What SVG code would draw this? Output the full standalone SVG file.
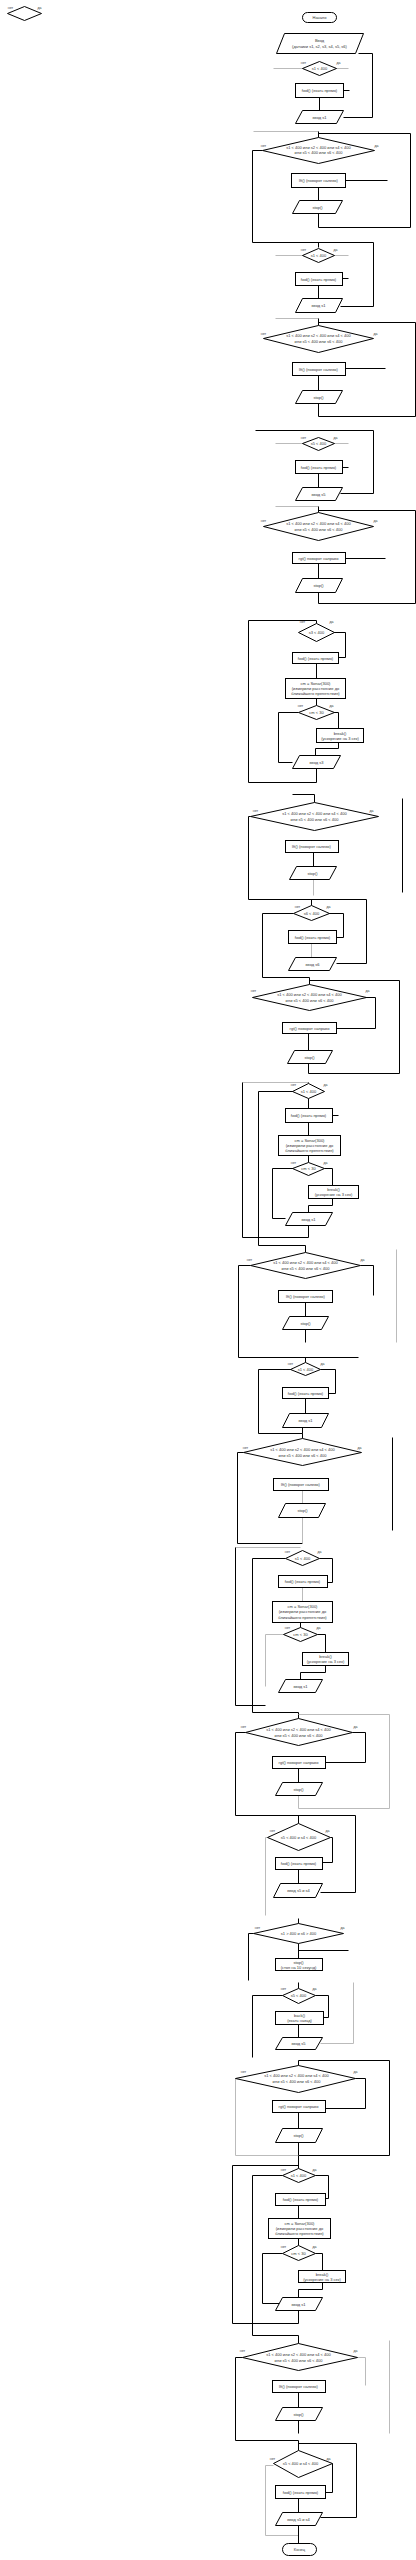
<svg xmlns="http://www.w3.org/2000/svg" width="416" height="2560" viewBox="0 0 416 2560">
<style>
.s{fill:#fff;stroke:#000;stroke-width:1}
.t{font-family:"Liberation Sans",Arial,sans-serif;font-size:4px;fill:#333;text-anchor:middle}
.l{font-family:"Liberation Sans",Arial,sans-serif;font-size:3.5px;fill:#333;text-anchor:middle}
.c{fill:none;stroke:#000;stroke-width:1}
.g{fill:none;stroke:#bbb;stroke-width:1}
</style>
<rect width="416" height="2560" fill="#fff"/>
<g transform="translate(0.5,0.5)">
<g id="connectors">
<path class="c" d="M343,117H372V53H358"/>
<path class="g" d="M273,68H348"/>
<path class="c" d="M319,97V110"/>
<path class="c" d="M343,90H349"/>
<path class="g" d="M253,131H318"/>
<path class="c" d="M318,131V137M318,133H410V227H318V213"/>
<path class="c" d="M345,180H387"/>
<path class="c" d="M318,187V200"/>
<path class="c" d="M262,150H252V242H373V306H340M318,242V247"/>
<path class="g" d="M275,255H348"/>
<path class="c" d="M342,278H348M318,285V298"/>
<path class="g" d="M275,318H318"/>
<path class="c" d="M318,318V325M318,322H415V416H318V403"/>
<path class="c" d="M345,368H385M318,375V390"/>
<path class="c" d="M255,430H373V493H340"/>
<path class="g" d="M275,443H348"/>
<path class="c" d="M342,467H348M318,473V487"/>
<path class="g" d="M275,506H318"/>
<path class="c" d="M318,506V512M318,510H415V603H318V592"/>
<path class="c" d="M345,558H385M318,563V578"/>
<path class="c" d="M316,620H248V782H316V768M316,620V623"/>
<path class="c" d="M333,632H345V657H338"/>
<path class="c" d="M316,663V678M316,698V705"/>
<path class="c" d="M298,712H278V762H292"/>
<path class="c" d="M333,712H338V728"/>
<path class="c" d="M338,742V748H315V755"/>
<path class="c" d="M292,794H314V802"/>
<path class="c" d="M402,798V892"/>
<path class="c" d="M250,816H248V899H366V963H336"/>
<path class="c" d="M313,852V866"/>
<path class="g" d="M313,879V895"/>
<path class="c" d="M311,899V905"/>
<path class="c" d="M293,913H262V977H309V984"/>
<path class="c" d="M328,913H343V937H336"/>
<path class="g" d="M311,943V957"/>
<path class="c" d="M309,980H399V1073H308V1063"/>
<path class="c" d="M365,997H375V1028H336"/>
<path class="c" d="M308,1033V1050"/>
<path class="g" d="M242,1082H308"/>
<path class="c" d="M242,1082V1237H308V1225M308,1082V1083"/>
<path class="c" d="M293,1091H258V1245H305V1252"/>
<path class="c" d="M332,1115H338M308,1098V1108M308,1122V1135M308,1155V1162"/>
<path class="c" d="M293,1168H272V1218H285"/>
<path class="c" d="M324,1168H332V1185"/>
<path class="c" d="M332,1198V1205H308V1212"/>
<path class="g" d="M396,1249V1342"/>
<path class="c" d="M250,1265H238V1357H358M305,1357V1362"/>
<path class="c" d="M360,1265H373V1295"/>
<path class="c" d="M305,1302V1316M305,1329V1342"/>
<path class="c" d="M292,1369H258V1433H302V1438"/>
<path class="c" d="M320,1369H335V1393H328"/>
<path class="c" d="M305,1398V1413M302,1427V1433"/>
<path class="c" d="M392,1437V1530"/>
<path class="c" d="M243,1452H237V1543H302"/>
<path class="g" d="M302,1490V1503M302,1517V1543"/>
<path class="g" d="M235,1547H300"/>
<path class="c" d="M235,1547V1705H265"/>
<path class="c" d="M285,1558H252V1712H298V1718"/>
<path class="c" d="M319,1558H332V1582H327"/>
<path class="g" d="M302,1587V1601"/>
<path class="c" d="M300,1622V1627"/>
<path class="g" d="M283,1634H265V1686"/>
<path class="c" d="M317,1634H325V1652"/>
<path class="c" d="M325,1665V1672H300V1679"/>
<path class="g" d="M298,1714H389V1808H298V1795"/>
<path class="c" d="M245,1732H235V1815H355V1892H320"/>
<path class="c" d="M352,1732H365V1762H325"/>
<path class="c" d="M298,1768V1782M298,1815V1823"/>
<path class="g" d="M267,1837H265V1915"/>
<path class="c" d="M330,1837H332V1862H322"/>
<path class="c" d="M298,1869V1883"/>
<path class="c" d="M298,1918V1923"/>
<path class="c" d="M253,1933H248V1980"/>
<path class="c" d="M298,1943V1958M298,1950H348"/>
<path class="c" d="M298,1982V1988"/>
<path class="g" d="M353,1982V2043H320"/>
<path class="c" d="M282,1995H252V2057"/>
<path class="c" d="M315,1995H328V2017H323"/>
<path class="c" d="M298,2024V2037"/>
<path class="c" d="M298,2060V2065M298,2060H389V2155H298V2142"/>
<path class="g" d="M235,2078V2155H298"/>
<path class="c" d="M355,2078H365V2108H325"/>
<path class="c" d="M298,2112V2128"/>
<path class="c" d="M298,2155V2168M232,2165H298"/>
<path class="c" d="M232,2165V2323H298V2310"/>
<path class="c" d="M282,2175H252V2335H298V2343"/>
<path class="c" d="M315,2175H328V2198H325"/>
<path class="c" d="M298,2205V2218M298,2238V2245"/>
<path class="c" d="M282,2253H262V2303H280"/>
<path class="c" d="M315,2253H322V2270"/>
<path class="c" d="M322,2282V2289H298V2297"/>
<path class="g" d="M389,2340V2433"/>
<path class="c" d="M242,2357H235V2440H298V2450"/>
<path class="c" d="M298,2443H356V2517H320"/>
<path class="g" d="M357,2357H365V2385"/>
<path class="c" d="M298,2392V2407M298,2420V2433"/>
<path class="g" d="M273,2465H265V2535H298"/>
<path class="c" d="M332,2463V2492H325"/>
<path class="c" d="M298,2498V2512M298,2525V2543"/>
</g>
<g id="n0"><path class="s" d="M7,13L24,6L41,13L24,20Z"/><text class="l" x="10" y="8">нет</text><text class="l" x="39" y="8">да</text></g>
<g id="start"><rect class="s" x="302" y="12" width="34" height="10" rx="5"/><text class="t" x="319" y="18.5">Начало</text></g>
<g id="in0"><path class="s" d="M284,33H363L355,53H276Z"/><text class="t" x="319" y="41.5">Ввод</text><text class="t" x="319" y="47">(датчики s1, s2, s3, s4, s5, s6)</text></g>
<g id="d1"><path class="s" d="M302,68L319,61L336,68L319,75Z"/><text class="t" x="319" y="69.5">s1 &lt; 400</text><text class="l" x="303" y="63">нет</text><text class="l" x="338" y="63">да</text></g>
<g id="b1"><rect class="s" x="295" y="83" width="48" height="14"/><text class="t" x="319" y="91.5">fwd() (ехать прямо)</text></g>
<g id="p1"><path class="s" d="M302,110H343L336,123H295Z"/><text class="t" x="319" y="118">ввод s1</text></g>
<g id="d2"><path class="s" d="M262,150L318,137L374,150L318,163Z"/><text class="t" x="318" y="148">s1 &lt; 400 или s2 &lt; 400 или s4 &lt; 400</text><text class="t" x="318" y="153.5">или s5 &lt; 400 или s6 &lt; 400</text><text class="l" x="263" y="146">нет</text><text class="l" x="376" y="146">да</text></g>
<g id="b2"><rect class="s" x="291" y="173" width="54" height="14"/><text class="t" x="318" y="181.5">lft() (поворот налево)</text></g>
<g id="p2"><path class="s" d="M299,200H342L335,213H292Z"/><text class="t" x="317" y="208">stop()</text></g>
<g id="d3"><path class="s" d="M302,255L318,248L334,255L318,262Z"/><text class="t" x="318" y="256.5">s1 &lt; 400</text><text class="l" x="303" y="250">нет</text><text class="l" x="335" y="250">да</text></g>
<g id="b3"><rect class="s" x="295" y="272" width="47" height="13"/><text class="t" x="318" y="280">fwd() (ехать прямо)</text></g>
<g id="p3"><path class="s" d="M302,298H342L335,312H295Z"/><text class="t" x="318" y="306.5">ввод s1</text></g>
<g id="d4"><path class="s" d="M263,338L318,325L373,338L318,352Z"/><text class="t" x="318" y="336.5">s1 &lt; 400 или s2 &lt; 400 или s4 &lt; 400</text><text class="t" x="318" y="342">или s5 &lt; 400 или s6 &lt; 400</text><text class="l" x="263" y="334">нет</text><text class="l" x="375" y="334">да</text></g>
<g id="b4"><rect class="s" x="292" y="362" width="53" height="13"/><text class="t" x="318" y="370">lft() (поворот налево)</text></g>
<g id="p4"><path class="s" d="M302,390H342L335,403H295Z"/><text class="t" x="318" y="398">stop()</text></g>
<g id="d5"><path class="s" d="M302,443L318,437L334,443L318,450Z"/><text class="t" x="318" y="444.5">s5 &lt; 400</text><text class="l" x="303" y="438">нет</text><text class="l" x="335" y="438">да</text></g>
<g id="b5"><rect class="s" x="295" y="460" width="47" height="13"/><text class="t" x="318" y="468">fwd() (ехать прямо)</text></g>
<g id="p5"><path class="s" d="M302,487H342L335,500H295Z"/><text class="t" x="318" y="495">ввод s5</text></g>
<g id="d6"><path class="s" d="M263,526L318,512L373,526L318,540Z"/><text class="t" x="318" y="524.5">s1 &lt; 400 или s2 &lt; 400 или s4 &lt; 400</text><text class="t" x="318" y="530">или s5 &lt; 400 или s6 &lt; 400</text><text class="l" x="263" y="521">нет</text><text class="l" x="375" y="521">да</text></g>
<g id="b6"><rect class="s" x="292" y="552" width="53" height="11"/><text class="t" x="318" y="559">rgt() поворот направо</text></g>
<g id="p6"><path class="s" d="M302,578H342L335,592H295Z"/><text class="t" x="318" y="586.5">stop()</text></g>
<g id="d7"><path class="s" d="M298,632L316,623L334,632L316,641Z"/><text class="t" x="316" y="633.5">s3 &lt; 400</text><text class="l" x="302" y="622">нет</text><text class="l" x="331" y="622">да</text></g>
<g id="b7"><rect class="s" x="292" y="652" width="46" height="11"/><text class="t" x="315" y="659">fwd() (ехать прямо)</text></g>
<g id="b8"><rect class="s" x="285" y="678" width="60" height="20"/><text class="t" x="315" y="684">cm = Sonar(300)</text><text class="t" x="315" y="689">(измерили расстояние до</text><text class="t" x="315" y="694">ближайшего препятствия)</text></g>
<g id="d8"><path class="s" d="M298,712L316,705L334,712L316,719Z"/><text class="t" x="316" y="713.5">cm &lt; 30</text><text class="l" x="300" y="706">нет</text><text class="l" x="331" y="706">да</text></g>
<g id="b9"><rect class="s" x="316" y="728" width="47" height="14"/><text class="t" x="339.5" y="734">break()</text><text class="t" x="339.5" y="739">(ускорение на 3 сек)</text></g>
<g id="p7"><path class="s" d="M299,755H340L333,768H292Z"/><text class="t" x="316" y="763">ввод s3</text></g>
<g id="d9"><path class="s" d="M250,816L314,802L378,816L314,830Z"/><text class="t" x="314" y="814.5">s1 &lt; 400 или s2 &lt; 400 или s4 &lt; 400</text><text class="t" x="314" y="820">или s5 &lt; 400 или s6 &lt; 400</text><text class="l" x="255" y="811">нет</text><text class="l" x="371" y="811">да</text></g>
<g id="b10"><rect class="s" x="285" y="840" width="53" height="12"/><text class="t" x="311" y="847.5">lft() (поворот налево)</text></g>
<g id="p8"><path class="s" d="M296,866H336L329,879H289Z"/><text class="t" x="312" y="874">stop()</text></g>
<g id="d10"><path class="s" d="M293,913L311,905L329,913L311,920Z"/><text class="t" x="311" y="914">s6 &lt; 400</text><text class="l" x="297" y="907">нет</text><text class="l" x="328" y="907">да</text></g>
<g id="b11"><rect class="s" x="288" y="930" width="48" height="13"/><text class="t" x="312" y="938">fwd() (ехать прямо)</text></g>
<g id="p9"><path class="s" d="M295,957H336L329,970H288Z"/><text class="t" x="312" y="965">ввод s6</text></g>
<g id="d11"><path class="s" d="M252,997L309,984L366,997L309,1010Z"/><text class="t" x="309" y="995.5">s1 &lt; 400 или s2 &lt; 400 или s4 &lt; 400</text><text class="t" x="309" y="1001">или s5 &lt; 400 или s6 &lt; 400</text><text class="l" x="253" y="991">нет</text><text class="l" x="367" y="991">да</text></g>
<g id="b12"><rect class="s" x="282" y="1022" width="54" height="11"/><text class="t" x="309" y="1029">rgt() поворот направо</text></g>
<g id="p10"><path class="s" d="M294,1050H332L325,1063H287Z"/><text class="t" x="309" y="1058">stop()</text></g>
<g id="d12"><path class="s" d="M292,1091L308,1083L324,1091L308,1098Z"/><text class="t" x="308" y="1092">s1 &lt; 400</text><text class="l" x="293" y="1085">нет</text><text class="l" x="325" y="1085">да</text></g>
<g id="b13"><rect class="s" x="285" y="1108" width="47" height="14"/><text class="t" x="308" y="1116.5">fwd() (ехать прямо)</text></g>
<g id="b14"><rect class="s" x="278" y="1135" width="62" height="20"/><text class="t" x="309" y="1141">cm = Sonar(300)</text><text class="t" x="309" y="1146">(измерили расстояние до</text><text class="t" x="309" y="1151">ближайшего препятствия)</text></g>
<g id="d13"><path class="s" d="M292,1168L308,1162L324,1168L308,1175Z"/><text class="t" x="308" y="1169.5">cm &lt; 30</text><text class="l" x="293" y="1163">нет</text><text class="l" x="325" y="1163">да</text></g>
<g id="b15"><rect class="s" x="308" y="1185" width="50" height="13"/><text class="t" x="333" y="1190.5">break()</text><text class="t" x="333" y="1195.5">(ускорение на 3 сек)</text></g>
<g id="p11"><path class="s" d="M292,1212H332L325,1225H285Z"/><text class="t" x="308" y="1220">ввод s1</text></g>
<g id="d14"><path class="s" d="M250,1265L305,1252L360,1265L305,1278Z"/><text class="t" x="305" y="1263.5">s1 &lt; 400 или s2 &lt; 400 или s4 &lt; 400</text><text class="t" x="305" y="1269">или s5 &lt; 400 или s6 &lt; 400</text><text class="l" x="249" y="1260">нет</text><text class="l" x="362" y="1260">да</text></g>
<g id="b16"><rect class="s" x="278" y="1290" width="54" height="12"/><text class="t" x="305" y="1297.5">lft() (поворот налево)</text></g>
<g id="p12"><path class="s" d="M289,1316H328L321,1329H282Z"/><text class="t" x="305" y="1324">stop()</text></g>
<g id="d15"><path class="s" d="M290,1369L305,1362L320,1369L305,1375Z"/><text class="t" x="305" y="1370">s1 &lt; 400</text><text class="l" x="290" y="1364">нет</text><text class="l" x="322" y="1364">да</text></g>
<g id="b17"><rect class="s" x="282" y="1387" width="46" height="11"/><text class="t" x="305" y="1394">fwd() (ехать прямо)</text></g>
<g id="p13"><path class="s" d="M289,1413H328L321,1427H282Z"/><text class="t" x="305" y="1421.5">ввод s1</text></g>
<g id="d16"><path class="s" d="M243,1452L302,1438L361,1452L302,1465Z"/><text class="t" x="302" y="1450.5">s1 &lt; 400 или s2 &lt; 400 или s4 &lt; 400</text><text class="t" x="302" y="1456">или s5 &lt; 400 или s6 &lt; 400</text><text class="l" x="245" y="1448">нет</text><text class="l" x="359" y="1448">да</text></g>
<g id="b18"><rect class="s" x="273" y="1478" width="55" height="12"/><text class="t" x="300" y="1485.5">lft() (поворот налево)</text></g>
<g id="p14"><path class="s" d="M285,1503H325L318,1517H278Z"/><text class="t" x="302" y="1511.5">stop()</text></g>
<g id="d17"><path class="s" d="M285,1558L302,1550L319,1558L302,1565Z"/><text class="t" x="302" y="1559">s1 &lt; 400</text><text class="l" x="287" y="1552">нет</text><text class="l" x="319" y="1552">да</text></g>
<g id="b19"><rect class="s" x="278" y="1575" width="49" height="12"/><text class="t" x="302" y="1582.5">fwd() (ехать прямо)</text></g>
<g id="b20"><rect class="s" x="272" y="1601" width="60" height="21"/><text class="t" x="302" y="1607">cm = Sonar(300)</text><text class="t" x="302" y="1612.5">(измерили расстояние до</text><text class="t" x="302" y="1618">ближайшего препятствия)</text></g>
<g id="d18"><path class="s" d="M283,1634L300,1627L317,1634L300,1641Z"/><text class="t" x="300" y="1635.5">cm &lt; 30</text><text class="l" x="287" y="1628">нет</text><text class="l" x="318" y="1628">да</text></g>
<g id="b21"><rect class="s" x="302" y="1652" width="46" height="13"/><text class="t" x="325" y="1657.5">break()</text><text class="t" x="325" y="1662.5">(ускорение на 3 сек)</text></g>
<g id="p15"><path class="s" d="M285,1679H322L315,1692H278Z"/><text class="t" x="300" y="1687">ввод s1</text></g>
<g id="d19"><path class="s" d="M245,1732L298,1718L352,1732L298,1745Z"/><text class="t" x="298" y="1730.5">s1 &lt; 400 или s2 &lt; 400 или s4 &lt; 400</text><text class="t" x="298" y="1736">или s5 &lt; 400 или s6 &lt; 400</text><text class="l" x="243" y="1727">нет</text><text class="l" x="355" y="1727">да</text></g>
<g id="b22"><rect class="s" x="272" y="1756" width="53" height="12"/><text class="t" x="298" y="1763.5">rgt() поворот направо</text></g>
<g id="p16"><path class="s" d="M282,1782H322L315,1795H275Z"/><text class="t" x="298" y="1790">stop()</text></g>
<g id="d20"><path class="s" d="M267,1837L298,1823L330,1837L298,1850Z"/><text class="t" x="298" y="1838.5">s5 &lt; 400 и s4 &lt; 400</text><text class="l" x="272" y="1831">нет</text><text class="l" x="327" y="1831">да</text></g>
<g id="b23"><rect class="s" x="275" y="1857" width="47" height="12"/><text class="t" x="298" y="1864.5">fwd() (ехать прямо)</text></g>
<g id="p17"><path class="s" d="M280,1883H322L315,1897H273Z"/><text class="t" x="298" y="1891.5">ввод s5 и s4</text></g>
<g id="d21"><path class="s" d="M253,1933L298,1923L343,1933L298,1943Z"/><text class="t" x="298" y="1934.5">s1 &gt; 400 и s6 &gt; 400</text><text class="l" x="257" y="1928">нет</text><text class="l" x="342" y="1928">да</text></g>
<g id="b24"><rect class="s" x="275" y="1958" width="47" height="12"/><text class="t" x="298" y="1963">stop()</text><text class="t" x="298" y="1968">(стоп на 10 секунд)</text></g>
<g id="d22"><path class="s" d="M282,1995L298,1988L315,1995L298,2003Z"/><text class="t" x="298" y="1996.5">s5 &lt; 400</text><text class="l" x="283" y="1989">нет</text><text class="l" x="314" y="1989">да</text></g>
<g id="b25"><rect class="s" x="275" y="2011" width="48" height="13"/><text class="t" x="299" y="2016.5">back()</text><text class="t" x="299" y="2021.5">(ехать назад)</text></g>
<g id="p18"><path class="s" d="M282,2037H322L315,2049H275Z"/><text class="t" x="298" y="2044.5">ввод s5</text></g>
<g id="d23"><path class="s" d="M235,2078L298,2065L355,2078L298,2092Z"/><text class="t" x="296" y="2076.5">s1 &lt; 400 или s2 &lt; 400 или s4 &lt; 400</text><text class="t" x="296" y="2082">или s5 &lt; 400 или s6 &lt; 400</text><text class="l" x="243" y="2072">нет</text><text class="l" x="355" y="2072">да</text></g>
<g id="b26"><rect class="s" x="272" y="2100" width="53" height="12"/><text class="t" x="298" y="2107.5">rgt() поворот направо</text></g>
<g id="p19"><path class="s" d="M282,2128H322L315,2142H275Z"/><text class="t" x="298" y="2136.5">stop()</text></g>
<g id="d24"><path class="s" d="M282,2175L298,2168L315,2175L298,2182Z"/><text class="t" x="298" y="2176.5">s1 &lt; 400</text><text class="l" x="283" y="2170">нет</text><text class="l" x="314" y="2170">да</text></g>
<g id="b27"><rect class="s" x="275" y="2193" width="50" height="12"/><text class="t" x="300" y="2200.5">fwd() (ехать прямо)</text></g>
<g id="b28"><rect class="s" x="268" y="2218" width="62" height="20"/><text class="t" x="299" y="2224">cm = Sonar(300)</text><text class="t" x="299" y="2229">(измерили расстояние до</text><text class="t" x="299" y="2234">ближайшего препятствия)</text></g>
<g id="d25"><path class="s" d="M282,2253L298,2245L315,2253L298,2260Z"/><text class="t" x="298" y="2254">cm &lt; 30</text><text class="l" x="283" y="2247">нет</text><text class="l" x="314" y="2247">да</text></g>
<g id="b29"><rect class="s" x="298" y="2270" width="47" height="12"/><text class="t" x="321.5" y="2275">break()</text><text class="t" x="321.5" y="2280">(ускорение на 3 сек)</text></g>
<g id="p20"><path class="s" d="M282,2297H322L315,2310H275Z"/><text class="t" x="298" y="2305">ввод s1</text></g>
<g id="d26"><path class="s" d="M242,2357L298,2343L357,2357L298,2370Z"/><text class="t" x="298" y="2355.5">s1 &lt; 400 или s2 &lt; 400 или s4 &lt; 400</text><text class="t" x="298" y="2361">или s5 &lt; 400 или s6 &lt; 400</text><text class="l" x="242" y="2351">нет</text><text class="l" x="355" y="2351">да</text></g>
<g id="b30"><rect class="s" x="272" y="2380" width="53" height="12"/><text class="t" x="298" y="2387.5">lft() (поворот налево)</text></g>
<g id="p21"><path class="s" d="M282,2407H322L315,2420H275Z"/><text class="t" x="298" y="2415">stop()</text></g>
<g id="d27"><path class="s" d="M273,2463L298,2450L332,2463L298,2477Z"/><text class="t" x="300" y="2464.5">s5 &lt; 400 и s4 &lt; 400</text><text class="l" x="272" y="2459">нет</text><text class="l" x="328" y="2459">да</text></g>
<g id="b31"><rect class="s" x="275" y="2485" width="50" height="13"/><text class="t" x="300" y="2493">fwd() (ехать прямо)</text></g>
<g id="p22"><path class="s" d="M282,2512H322L315,2525H275Z"/><text class="t" x="298" y="2520">ввод s5 и s4</text></g>
<g id="end"><rect class="s" x="282" y="2543" width="34" height="12" rx="6"/><text class="t" x="299" y="2550.5">Конец</text></g>
</g>
</svg>
